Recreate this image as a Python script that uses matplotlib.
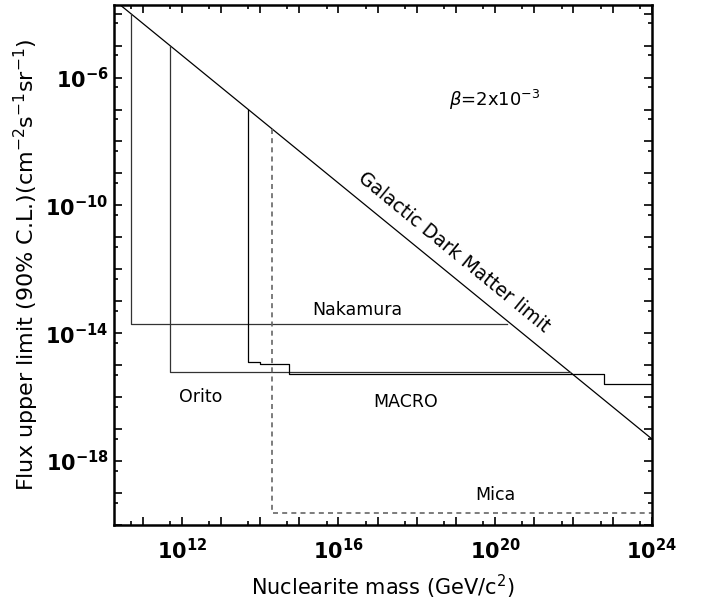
import matplotlib
matplotlib.use("Agg")
import matplotlib.pyplot as plt
import numpy as np
from matplotlib.ticker import LogLocator, FuncFormatter, NullFormatter

# galactic dark matter limit (two end points)
dm_mass = [1e10, 1e24]
dm_flux = [5e-4, 5e-18]

nakamura_mass = [5e10, 5e10, 2e20]
nakamura_flux = [1e-4, 2e-14, 2e-14]

orito_mass = [5e11, 5e11, 8.3e21]
orito_flux = [1e-5, 6e-16, 6e-16]

macro_mass = [5e13, 5e13, 1e14, 1e14, 5.4e14, 5.4e14, 6e22, 6e22, 1e24]
macro_flux = [1e-7, 1.3e-15, 1.3e-15, 1.06e-15, 1.06e-15, 5.4e-16, 5.4e-16, 2.6e-16, 2.6e-16]

mica_mass = [2e14, 2e14, 1e24]
mica_flux = [2.5e-8, 2.3e-20, 2.3e-20]

labelled_x = [12, 16, 20, 24]
labelled_y = [-6, -10, -14, -18]

fig = plt.figure(figsize=(7.03, 6.05), dpi=100)
ax = fig.add_axes([0.1622, 0.1322, 0.9270 - 0.1622, 0.9917 - 0.1322])

ax.plot(dm_mass, dm_flux, color="black", lw=0.9)
ax.plot(nakamura_mass, nakamura_flux, color="#333333", lw=0.9)
ax.plot(orito_mass, orito_flux, color="#333333", lw=0.9)
ax.plot(macro_mass, macro_flux, color="black", lw=0.9)
ax.plot(mica_mass, mica_flux, color="#666666", lw=1.2, dashes=(3, 2.5))

ax.set_xscale("log")
ax.set_yscale("log")
ax.set_xlim(1.86e10, 1e24)
ax.set_ylim(1e-20, 1.86e-4)

for spine in ax.spines.values():
    spine.set_linewidth(1.8)


def make_fmt(keep):
    def fmt(v, pos):
        e = int(round(np.log10(v)))
        if e in keep:
            return r"$\mathbf{10^{%d}}$" % e
        return ""
    return fmt


ax.xaxis.set_major_locator(LogLocator(base=10, numticks=40))
ax.yaxis.set_major_locator(LogLocator(base=10, numticks=40))
ax.xaxis.set_minor_locator(LogLocator(base=10, subs=[5], numticks=40))
ax.yaxis.set_minor_locator(LogLocator(base=10, subs=[5], numticks=40))
ax.xaxis.set_major_formatter(FuncFormatter(make_fmt(labelled_x)))
ax.yaxis.set_major_formatter(FuncFormatter(make_fmt(labelled_y)))
ax.xaxis.set_minor_formatter(NullFormatter())
ax.yaxis.set_minor_formatter(NullFormatter())
ax.tick_params(which="both", direction="in", top=True, right=True, width=1.2)
ax.tick_params(which="major", length=6, labelsize=15)
ax.tick_params(which="minor", length=3)
ax.tick_params(axis="x", which="major", pad=9)
ax.tick_params(axis="y", which="major", pad=4)

ax.set_xlabel(r"Nuclearite mass (GeV/c$^{2}$)", fontsize=15, labelpad=7)
ax.set_ylabel(r"Flux upper limit (90% C.L.)(cm$^{-2}$s$^{-1}$sr$^{-1}$)",
              fontsize=16, labelpad=3)

ax.text(1e20, 10**-6.70, r"$\beta$=2x10$^{-3}$", fontsize=13,
        ha="center", va="center")
ax.text(10**18.94, 10**-11.46, "Galactic Dark Matter limit", fontsize=13.5,
        ha="center", va="center", rotation=-39.3)
ax.text(10**16.48, 10**-13.27, "Nakamura", fontsize=12.5, ha="center", va="center")
ax.text(10**12.49, 10**-16.01, "Orito", fontsize=12.5, ha="center", va="center")
ax.text(10**17.71, 10**-16.14, "MACRO", fontsize=12.5, ha="center", va="center")
ax.text(10**20.01, 10**-19.05, "Mica", fontsize=12.5, ha="center", va="center")

fig.savefig("out.png", dpi=100)
